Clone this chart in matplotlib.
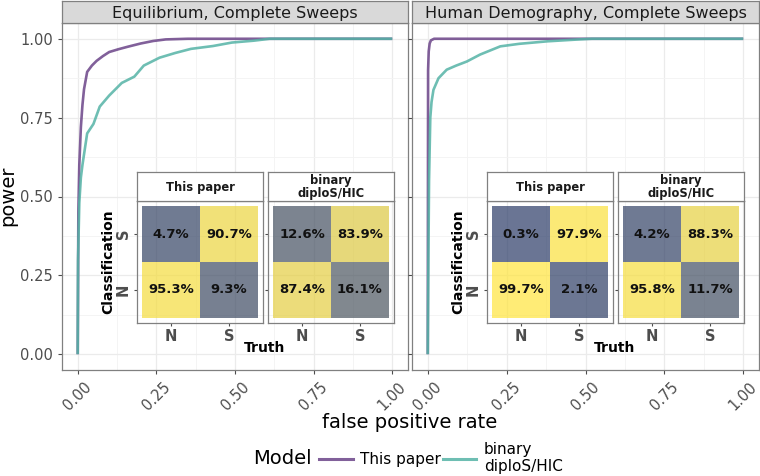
import matplotlib.pyplot as plt
from matplotlib.colors import LinearSegmentedColormap, Normalize
from matplotlib.lines import Line2D

# facet titles and models
panel_titles = ["Equilibrium, Complete Sweeps", "Human Demography, Complete Sweeps"]
model_names = ["This paper", "binary\ndiploS/HIC"]
model_colors = ["#6b4488", "#55b3a6"]

# ROC curves
eq_paper_fpr = [0, 0.002, 0.005, 0.01, 0.015, 0.02, 0.03, 0.045, 0.06, 0.08, 0.1, 0.13, 0.16, 0.2, 0.24, 0.28, 0.35, 0.5, 1.0]
eq_paper_tpr = [0, 0.45, 0.6, 0.72, 0.79, 0.84, 0.895, 0.915, 0.93, 0.945, 0.958, 0.967, 0.975, 0.985, 0.993, 0.998, 1.0, 1.0, 1.0]
eq_binary_fpr = [0, 0.001, 0.005, 0.01, 0.015, 0.03, 0.05, 0.07, 0.1, 0.14, 0.18, 0.21, 0.26, 0.31, 0.36, 0.43, 0.49, 0.56, 0.61, 1.0]
eq_binary_tpr = [0, 0.3, 0.48, 0.56, 0.6, 0.7, 0.73, 0.785, 0.82, 0.86, 0.88, 0.915, 0.94, 0.955, 0.968, 0.977, 0.988, 0.994, 1.0, 1.0]
hum_paper_fpr = [0, 0.001, 0.003, 0.006, 0.01, 0.02, 1.0]
hum_paper_tpr = [0, 0.9, 0.96, 0.985, 0.995, 1.0, 1.0]
hum_binary_fpr = [0, 0.002, 0.004, 0.008, 0.012, 0.018, 0.034, 0.06, 0.09, 0.124, 0.166, 0.23, 0.29, 0.38, 0.48, 0.52, 1.0]
hum_binary_tpr = [0, 0.3, 0.55, 0.75, 0.8, 0.838, 0.875, 0.902, 0.915, 0.928, 0.95, 0.976, 0.984, 0.992, 0.998, 1.0, 1.0]

# confusion matrices in percent: rows = classification (N, S), cols = truth (N, S)
class_labels = ["N", "S"]
eq_paper_cm = [[95.3, 9.3], [4.7, 90.7]]
eq_binary_cm = [[87.4, 16.1], [12.6, 83.9]]
hum_paper_cm = [[99.7, 2.1], [0.3, 97.9]]
hum_binary_cm = [[95.8, 11.7], [4.2, 88.3]]

roc_data = [
    [(eq_paper_fpr, eq_paper_tpr), (eq_binary_fpr, eq_binary_tpr)],
    [(hum_paper_fpr, hum_paper_tpr), (hum_binary_fpr, hum_binary_tpr)],
]
cm_data = [[eq_paper_cm, eq_binary_cm], [hum_paper_cm, hum_binary_cm]]

W, H = 760, 476
border = "#808080"
cmap = LinearSegmentedColormap.from_list("cm", ["#293a66", "#ffe43b"])
norm = Normalize(0, 100)


def px_box(x0, y0, x1, y1):
    # pixel box (top-left origin) -> figure fraction rect
    return [x0 / W, 1 - y1 / H, (x1 - x0) / W, (y1 - y0) / H]


fig = plt.figure(figsize=(7.6, 4.76), dpi=100)

panel_x = [(62, 408), (412, 759)]
for p in range(2):
    x0, x1 = panel_x[p]
    ax = fig.add_axes(px_box(x0, 23, x1, 370))
    for (fpr, tpr), col in zip(roc_data[p], model_colors):
        ax.plot(fpr, tpr, color=col, lw=1.9, alpha=0.85, solid_capstyle="butt")
    ax.set_xlim(-0.05, 1.05)
    ax.set_ylim(-0.05, 1.05)
    ticks = [0, 0.25, 0.5, 0.75, 1.0]
    ax.set_xticks(ticks)
    ax.set_xticks([0.125, 0.375, 0.625, 0.875], minor=True)
    ax.set_yticks(ticks)
    ax.set_yticks([0.125, 0.375, 0.625, 0.875], minor=True)
    ax.set_xticklabels([f"{t:.2f}" for t in ticks], rotation=45)
    if p == 0:
        ax.set_yticklabels([f"{t:.2f}" for t in ticks])
    else:
        ax.set_yticklabels([])
        ax.tick_params(axis="y", length=0)
    ax.tick_params(which="both", colors="#4d4d4d", labelsize=10.5, length=3, width=0.8)
    ax.tick_params(which="minor", length=0)
    ax.grid(which="major", color="#ebebeb", lw=0.9)
    ax.grid(which="minor", color="#f3f3f3", lw=0.6)
    ax.set_axisbelow(True)
    for s in ax.spines.values():
        s.set_color(border)
        s.set_linewidth(0.9)

    # facet strip
    sax = fig.add_axes(px_box(x0, 1, x1, 23))
    sax.set_facecolor("#d9d9d9")
    sax.set_xticks([])
    sax.set_yticks([])
    for s in sax.spines.values():
        s.set_color(border)
        s.set_linewidth(0.9)
    sax.text(0.5, 0.45, panel_titles[p], ha="center", va="center", fontsize=11.5,
             color="#1a1a1a", transform=sax.transAxes)

    # inset confusion matrices
    off = x0 - 62
    inset_x = [(137 + off, 263 + off), (268 + off, 394 + off)]
    for m in range(2):
        ix0, ix1 = inset_x[m]
        iax = fig.add_axes(px_box(ix0, 201, ix1, 323))
        iax.set_facecolor("none")
        cm = cm_data[p][m]
        iax.imshow(cm, cmap=cmap, norm=norm, alpha=0.7, origin="lower",
                   extent=(0.5, 2.5, 0.5, 2.5), aspect="auto", interpolation="nearest")
        for r in range(2):
            for c in range(2):
                iax.text(c + 1, r + 1, f"{cm[r][c]:.1f}%", ha="center", va="center",
                         fontsize=9.5, fontweight="bold", color="#111111")
        iax.set_xlim(0.41, 2.59)
        iax.set_ylim(0.41, 2.59)
        iax.set_xticks([1, 2])
        iax.set_xticklabels(class_labels)
        iax.set_yticks([1, 2])
        if m == 0:
            iax.set_yticklabels(class_labels, rotation=90, va="center")
        else:
            iax.set_yticklabels([])
            iax.tick_params(axis="y", length=0)
        iax.tick_params(colors="#4d4d4d", labelsize=10.5, length=2.5, width=0.8, pad=2)
        for lab in iax.get_xticklabels() + iax.get_yticklabels():
            lab.set_fontweight("bold")
        for s in iax.spines.values():
            s.set_color(border)
            s.set_linewidth(0.9)

        stax = fig.add_axes(px_box(ix0, 172, ix1, 201))
        stax.set_facecolor("white")
        stax.set_xticks([])
        stax.set_yticks([])
        for s in stax.spines.values():
            s.set_color(border)
            s.set_linewidth(0.9)
        stax.text(0.5, 0.48, model_names[m], ha="center", va="center", fontsize=8.3,
                  fontweight="bold", color="#1a1a1a", linespacing=0.95,
                  transform=stax.transAxes)

    fig.text((108 + off) / W, 1 - 262 / H, "Classification", rotation=90, ha="center",
             va="center", fontsize=10, fontweight="bold")
    fig.text((265 + off) / W, 1 - 348 / H, "Truth", ha="center", va="center",
             fontsize=10, fontweight="bold")

fig.text(8 / W, 1 - 196 / H, "power", rotation=90, ha="center", va="center", fontsize=14)
fig.text(410 / W, 1 - 423 / H, "false positive rate", ha="center", va="center", fontsize=14)

# legend
fig.text(253 / W, 1 - 458 / H, "Model", ha="left", va="center", fontsize=14)
handles = [Line2D([], [], color=c, lw=2.2, alpha=0.85) for c in model_colors]
fig.legend(handles, model_names, loc="center left", bbox_to_anchor=(319 / W, 1 - 458 / H),
           ncol=2, frameon=False, fontsize=11, handlelength=2.2, handletextpad=0.5,
           columnspacing=0.1, borderpad=0, borderaxespad=0)

fig.savefig("out.png", dpi=100)
